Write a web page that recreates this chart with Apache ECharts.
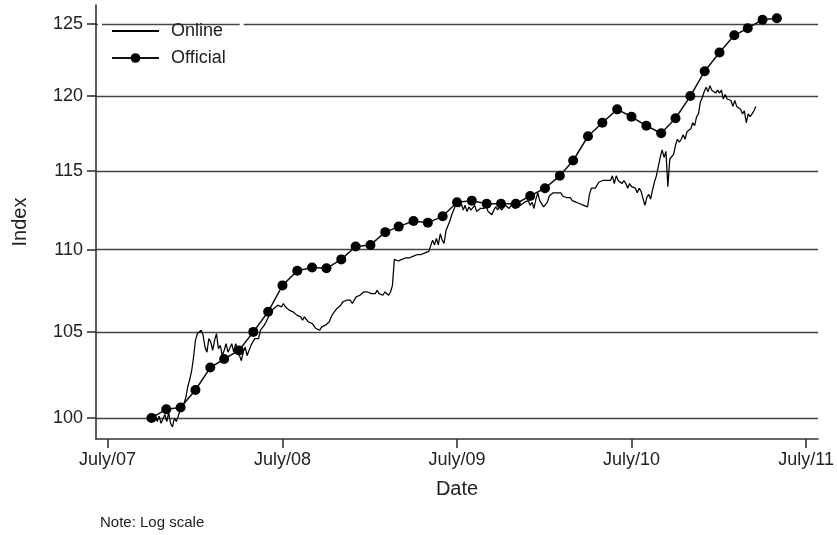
<!DOCTYPE html>
<html>
<head>
<meta charset="utf-8">
<script src="https://cdn.jsdelivr.net/npm/echarts@6/dist/echarts.min.js"></script>
<style>
  html, body { margin: 0; padding: 0; background: #fff; }
  #chart { width: 837px; height: 535px; }
</style>
</head>
<body>
<div id="chart"></div>
<script>
// Official index: monthly observations
const officialDates = [
  '2007-10-01','2007-11-01','2007-12-01',
  '2008-01-01','2008-02-01','2008-03-01','2008-04-01','2008-05-01','2008-06-01',
  '2008-07-01','2008-08-01','2008-09-01','2008-10-01','2008-11-01','2008-12-01',
  '2009-01-01','2009-02-01','2009-03-01','2009-04-01','2009-05-01','2009-06-01',
  '2009-07-01','2009-08-01','2009-09-01','2009-10-01','2009-11-01','2009-12-01',
  '2010-01-01','2010-02-01','2010-03-01','2010-04-01','2010-05-01','2010-06-01',
  '2010-07-01','2010-08-01','2010-09-01','2010-10-01','2010-11-01','2010-12-01',
  '2011-01-01','2011-02-01','2011-03-01','2011-04-01','2011-05-01'
];
const officialValues = [
  100.0, 100.5, 100.6,
  101.6, 102.9, 103.4, 103.9, 105.0, 106.2,
  107.8, 108.7, 108.9, 108.85, 109.4, 110.2,
  110.3, 111.1, 111.45, 111.8, 111.7, 112.1,
  113.0, 113.1, 112.9, 112.9, 112.9, 113.4,
  113.9, 114.7, 115.7, 117.3, 118.2, 119.1,
  118.6, 118.0, 117.5, 118.5, 120.0, 121.7,
  123.0, 124.2, 124.7, 125.3, 125.4
];

// Online index: sampled every 4 days from the start date
const onlineStart = [2007, 10, 1];
const onlineStepDays = 4;
const onlineValues = [
  100.0, 99.9, 100.2, 99.8, 100.1, 99.7, 99.6, 100.2, 99.8, 100.3,
  99.7, 99.5, 100.0, 99.8, 100.1, 100.5, 100.4, 100.8, 101.2, 101.8,
  102.2, 102.7, 103.5, 104.5, 104.9, 105.0, 105.1, 104.8, 104.1, 103.8,
  104.6, 104.4, 103.9, 104.5, 104.9, 104.0, 104.2, 103.6, 103.9, 104.3,
  103.8, 103.7, 104.3, 103.8, 104.3, 104.0, 103.6, 103.3, 103.8, 104.1,
  103.6, 103.9, 104.2, 104.1, 104.6, 104.7, 104.6, 105.1, 105.1, 105.4,
  105.6, 105.6, 106.1, 106.0, 106.4, 106.3, 106.6, 106.6, 106.5, 106.7,
  106.5, 106.6, 106.3, 106.4, 106.2, 106.2, 106.0, 105.9, 105.9, 105.7,
  105.9, 105.8, 105.6, 105.7, 105.5, 105.4, 105.2, 105.3, 105.1, 105.3,
  105.2, 105.4, 105.5, 105.6, 105.9, 106.1, 106.2, 106.4, 106.3, 106.6,
  106.8, 106.7, 106.9, 106.8, 106.9, 106.7, 106.8, 107.1, 107.0, 107.2,
  107.1, 107.4, 107.3, 107.4, 107.3, 107.3, 107.4, 107.3, 107.5, 107.3,
  107.4, 107.2, 107.4, 107.3, 107.2, 107.4, 107.8, 109.4, 109.4, 109.3,
  109.4, 109.4, 109.4, 109.5, 109.5, 109.5, 109.6, 109.6, 109.6, 109.7,
  109.7, 109.7, 109.8, 109.8, 109.8, 109.9, 109.9, 110.6, 110.3, 110.7,
  110.3, 111.0, 110.6, 110.4, 111.2, 111.3, 111.8, 112.2, 112.5, 112.8,
  113.0, 112.7, 112.9, 112.5, 112.8, 112.4, 112.7, 112.5, 112.6, 112.8,
  112.4, 112.4, 112.6, 112.5, 112.6, 112.8, 112.4, 112.4, 112.2, 112.5,
  112.7, 112.5, 112.7, 112.5, 112.6, 112.8, 112.7, 112.6, 112.8, 112.7,
  112.6, 112.8, 112.7, 112.8, 112.7, 113.0, 112.9, 113.1, 112.8, 113.0,
  112.6, 113.2, 113.6, 113.1, 113.1, 112.7, 112.8, 113.0, 113.4, 113.3,
  113.6, 113.7, 113.6, 113.6, 113.6, 113.4, 113.5, 113.3, 113.2, 113.3,
  113.1, 113.2, 113.0, 113.1, 112.9, 113.0, 112.8, 112.9, 112.7, 113.5,
  113.9, 113.9, 113.9, 114.1, 114.3, 114.2, 114.4, 114.4, 114.4, 114.3,
  114.4, 114.7, 114.2, 114.7, 114.4, 114.5, 114.2, 114.4, 114.2, 113.9,
  114.2, 114.0, 113.9, 113.9, 113.6, 113.9, 113.7, 113.6, 112.8, 113.3,
  113.5, 113.2, 113.8, 114.3, 114.7, 115.3, 115.9, 116.4, 115.9, 116.3,
  114.0, 115.8, 115.8, 116.1, 116.7, 117.1, 116.9, 117.1, 117.4, 117.1,
  117.6, 117.5, 117.8, 118.2, 118.0, 118.6, 118.8, 119.6, 119.9, 120.3,
  120.6, 120.3, 120.7, 120.4, 120.5, 120.2, 120.4, 120.2, 120.4, 119.8,
  120.1, 119.8, 119.8, 119.7, 119.3, 119.7, 119.3, 119.3, 119.1, 118.8,
  119.0, 118.2, 118.8, 118.6, 118.8, 119.0, 119.3
];

// Axis ticks
const xTickDates = ['2007-07-01', '2008-07-01', '2009-07-01', '2010-07-01', '2011-07-01'];
const xTickLabels = ['July/07', 'July/08', 'July/09', 'July/10', 'July/11'];
const yTicks = [100, 105, 110, 115, 120, 125];

function ts(s) {
  const p = s.split('-').map(Number);
  return new Date(p[0], p[1] - 1, p[2]).getTime();
}

const onlineData = onlineValues.map((v, i) => [
  new Date(onlineStart[0], onlineStart[1] - 1, onlineStart[2] + i * onlineStepDays).getTime(), v
]);
const officialData = officialDates.map((d, i) => [ts(d), officialValues[i]]);
const xTickTs = xTickDates.map(ts);

const FONT = '"Liberation Sans", Arial, Helvetica, sans-serif';
const TEXT = '#222';
const AXIS = '#333';

const chart = echarts.init(document.getElementById('chart'), null, { renderer: 'canvas' });
chart.setOption({
  animation: false,
  backgroundColor: '#fff',
  textStyle: { fontFamily: FONT },
  grid: { left: 96, right: 19, top: 5, bottom: 96, containLabel: false, outerBoundsMode: 'none' },
  legend: {
    data: [
      // plain line key for the online series: hide the marker
      { name: 'Online', itemStyle: { color: 'rgba(0,0,0,0)', borderColor: 'rgba(0,0,0,0)', borderWidth: 0 } },
      { name: 'Official' }
    ],
    orient: 'vertical',
    left: 100,
    top: 16,
    padding: [6, 16, 6, 11],
    itemWidth: 47,
    itemHeight: 12,
    itemGap: 9,
    borderColor: '#fff',
    borderWidth: 4,
    backgroundColor: 'transparent',
    lineStyle: { width: 2 },
    textStyle: { fontFamily: FONT, fontSize: 18, color: TEXT, padding: [0, 0, 0, 7], lineHeight: 18 }
  },
  // dates are plotted as millisecond timestamps on a linear scale
  xAxis: {
    type: 'value',
    min: ts('2007-06-07'),
    max: ts('2011-07-26'),
    name: 'Date',
    nameLocation: 'middle',
    nameGap: 40,
    nameTextStyle: { fontFamily: FONT, fontSize: 20, color: TEXT },
    axisLine: { show: true, lineStyle: { color: AXIS, width: 1.6 } },
    axisTick: { show: true, inside: false, length: 9, customValues: xTickTs, lineStyle: { color: AXIS, width: 1.6 } },
    axisLabel: {
      customValues: xTickTs,
      margin: 12,
      fontFamily: FONT, fontSize: 18, color: TEXT,
      formatter: function (v) {
        let best = 0;
        xTickTs.forEach((t, i) => { if (Math.abs(t - v) < Math.abs(xTickTs[best] - v)) best = i; });
        return xTickLabels[best];
      }
    },
    splitLine: { show: false }
  },
  yAxis: {
    type: 'log',
    logBase: 10,
    min: 98.82,
    max: 126.35,
    name: 'Index',
    nameLocation: 'middle',
    nameGap: 66,
    nameTextStyle: { fontFamily: FONT, fontSize: 20, color: TEXT },
    axisLine: { show: true, lineStyle: { color: AXIS, width: 1.6 } },
    axisTick: { show: true, inside: false, length: 9, customValues: yTicks, lineStyle: { color: AXIS, width: 1.6 } },
    axisLabel: {
      customValues: yTicks,
      margin: 13,
      fontFamily: FONT, fontSize: 18, color: TEXT,
      formatter: function (v) { return String(Math.round(v)); }
    },
    splitLine: { show: true, lineStyle: { color: '#444', width: 1.4 } }
  },
  series: [
    {
      name: 'Online',
      type: 'line',
      data: onlineData,
      symbol: 'none',
      lineStyle: { color: '#000', width: 1.25 },
      itemStyle: { color: '#000' },
      z: 3
    },
    {
      name: 'Official',
      type: 'line',
      data: officialData,
      symbol: 'circle',
      symbolSize: 10,
      lineStyle: { color: '#111', width: 1.5 },
      itemStyle: { color: '#000' },
      z: 4
    }
  ],
  graphic: [
    {
      type: 'text',
      left: 100,
      top: 515,
      style: { text: 'Note: Log scale', fontFamily: FONT, fontSize: 15, fill: TEXT }
    }
  ]
});
</script>
</body>
</html>
